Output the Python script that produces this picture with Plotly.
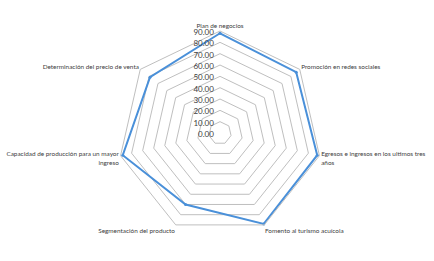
import plotly.graph_objects as go

categories = [
    "Plan de negocios",
    "Promoción en redes sociales",
    "Egresos e ingresos en los ultimos tres<br>años",
    "Fomento al turismo acuícola",
    "Segmentación del producto",
    "Capacidad de producción para un mayor<br>ingreso",
    "Determinación del precio de venta",
]
values = [88, 86, 88, 89, 70, 88, 79]
radial_ticks = [0, 10, 20, 30, 40, 50, 60, 70, 80, 90]

fig = go.Figure()
fig.add_trace(go.Scatterpolar(
    r=values + values[:1],
    theta=categories + categories[:1],
    mode="lines+markers",
    line=dict(color="#4A90D9", width=2),
    marker=dict(size=3, color="#4A90D9"),
    showlegend=False,
))

fig.update_layout(
    width=434, height=261,
    margin=dict(l=6, r=0, t=31, b=26),
    paper_bgcolor="white",
    plot_bgcolor="white",
    font=dict(family="Lato, Liberation Sans, sans-serif", size=8, color="#404040"),
    polar=dict(
        bgcolor="white",
        gridshape="linear",
        radialaxis=dict(
            range=[0, 90],
            tickvals=radial_ticks,
            tickformat=".2f",
            angle=90,
            side="counterclockwise",
            showline=False,
            gridcolor="#BFBFBF",
            gridwidth=1,
            ticks="",
            tickfont=dict(family="Lato, Liberation Sans, sans-serif", size=8, color="#404040"),
        ),
        angularaxis=dict(
            rotation=90,
            direction="clockwise",
            showgrid=False,
            showline=True,
            linecolor="#BFBFBF",
            linewidth=1,
            ticks="",
            tickfont=dict(family="Lato, Liberation Sans, sans-serif", size=6.4, color="#404040"),
        ),
    ),
)

fig.write_html("out.html")
